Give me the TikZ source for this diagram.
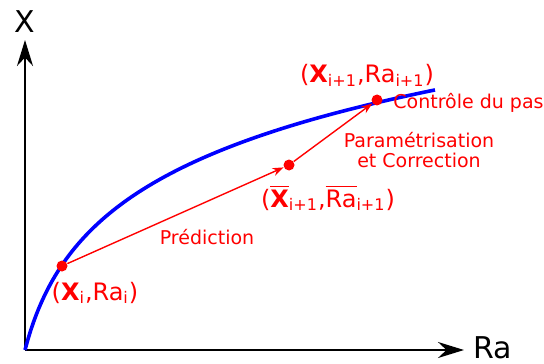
\documentclass[tikz,border=0pt]{standalone}
\usepackage{fontspec}
\setmainfont{DejaVu Sans}
\usetikzlibrary{arrows.meta}
\tikzset{
  pnt/.style={circle, fill=red, inner sep=0pt, minimum size=5.5pt},
  lbl/.style={text=red, font=\fontsize{12}{14}\selectfont, inner sep=0pt},
  note/.style={text=red, font=\fontsize{9.5}{9.6}\selectfont, inner sep=0pt, align=center},
  axlbl/.style={font=\fontsize{15}{17}\selectfont, inner sep=0pt},
}
\newcommand{\sub}[1]{\textsubscript{#1}}
\newcommand{\barbox}[1]{$\overline{\mbox{#1}}$}

\begin{document}
\begin{tikzpicture}[x=0.5pt,y=-0.5pt]
\useasboundingbox (0,0) rectangle (544,363);

% axes
\coordinate (o) at (25,350); \coordinate (ytip) at (25,40); \coordinate (xtip) at (464,350);
\draw[line width=1pt, -{Stealth[length=13pt,width=8pt]}] (o) -- (ytip);
\draw[line width=1pt, -{Stealth[length=13pt,width=8pt]}] (o) -- (xtip);
\node[axlbl, anchor=base] (xlab) at (25,33) {X};
\node[axlbl, anchor=base] (ralab) at (493,358) {Ra};

% curve
\draw[blue, line width=1.8pt] plot[domain=0:410, samples=150] ({25+\x},{350-88.6*ln(1+\x/23)});

% points
\node[pnt] (pi) at (62,266) {};
\node[pnt] (pbar) at (289,165) {};
\node[pnt] (pnext) at (377,100) {};
\draw[red, line width=0.7pt, -{Stealth[length=5.5pt,width=4pt]}] (pi) -- (pbar);
\draw[red, line width=0.7pt, -{Stealth[length=5.5pt,width=4pt]}] (pbar) -- (pnext);

% labels
\node[lbl, anchor=base] (lpi) at (95,300) {(\textbf{X}\sub{i},Ra\sub{i})};
\node[lbl, anchor=base] (lpbar) at (328,207) {(\barbox{\textbf{X}}\sub{i+1},\barbox{Ra}\sub{i+1})};
\node[lbl, anchor=base] (lpnext) at (367,83) {(\textbf{X}\sub{i+1},Ra\sub{i+1})};
\node[note, anchor=base west] (ctrl) at (393,109) {Contrôle du pas};
\node[note] (param) at (419,150) {Paramétrisation\\et Correction};
\node[note, anchor=base] (pred) at (207,244) {Prédiction};

\end{tikzpicture}
\end{document}
